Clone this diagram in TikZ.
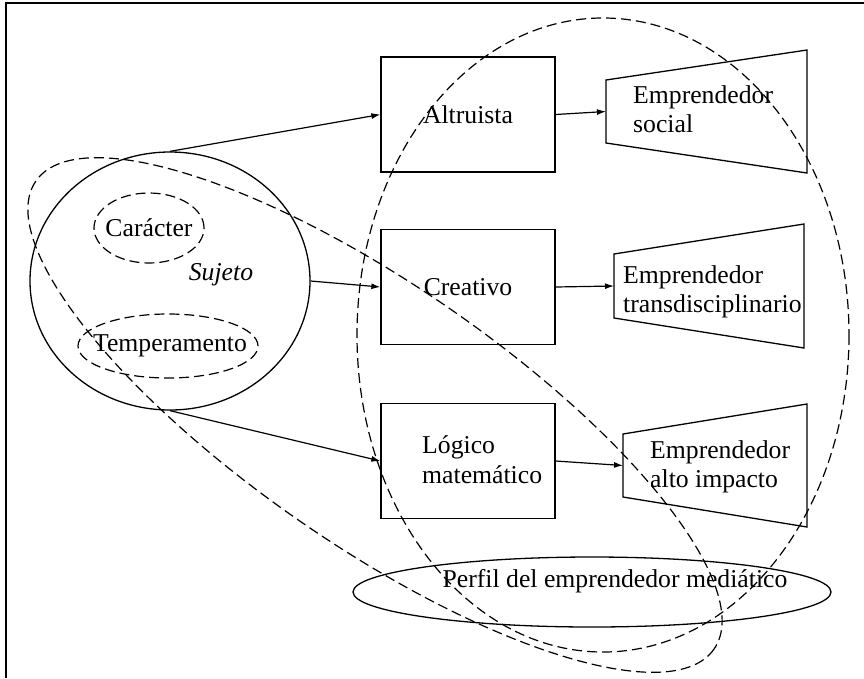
\documentclass[tikz,border=0pt]{standalone}
\usepackage{fontspec}
\setmainfont{Liberation Serif}
\usetikzlibrary{arrows.meta,shapes.geometric}
\begin{document}
\begin{tikzpicture}[x=1pt,y=-1pt,
  every node/.style={font=\fontsize{25.7}{29}\selectfont, inner sep=0pt},
  ln/.style={line width=1.3pt},
  box/.style={draw, line width=1.3pt, minimum width=174pt, minimum height=115pt},
  dsh/.style={line width=1.2pt, dash pattern=on 10pt off 5pt},
  arr/.style={-{Latex[length=9pt,width=6pt]}, line width=1.2pt},
  txt/.style={anchor=base west}]
\useasboundingbox (0,0) rectangle (864,678);
\draw[ln] (6,678) -- (6,3) -- (864,3);

% subject circle
\node[draw, ln, ellipse, minimum width=280pt, minimum height=258pt] (suj) at (170,281) {};
\node (sujt) at (221,275) {\itshape Sujeto};
\node[draw, dsh, ellipse, minimum width=110pt, minimum height=70pt] (car) at (149,228) {};
\node (cart) at (149,228) {Carácter};
\node[draw, dsh, ellipse, minimum width=180pt, minimum height=64pt] (tem) at (168,346) {};
\node (temt) at (170,346) {Temperamento};

% boxes
\node[box] (alt) at (468,114.5) {Altruista};
\node[box] (cre) at (468,287) {Creativo};
\node[box] (log) at (468,461) {};
\node[txt] (logA) at (422,453) {Lógico};
\node[txt] (logB) at (422,483) {matemático};

% trapezoids
\draw[ln] (606,80) -- (807,50) -- (807,173) -- (606,143) -- cycle;
\coordinate (t1) at (606,111.5);
\node[txt] (t1a) at (633,103) {Emprendedor};
\node[txt] (t1b) at (633,132) {social};
\draw[ln] (614,254) -- (804,224) -- (804,348) -- (614,318) -- cycle;
\coordinate (t2) at (614,286);
\node[txt] (t2a) at (623,283) {Emprendedor};
\node[txt] (t2b) at (623,312) {transdisciplinario};
\draw[ln] (623,434) -- (807,404) -- (807,527) -- (623,497) -- cycle;
\coordinate (t3) at (623,465.5);
\node[txt] (t3a) at (650,458) {Emprendedor};
\node[txt] (t3b) at (650,487) {alto impacto};

% bottom ellipse
\node[draw, ln, ellipse, minimum width=478pt, minimum height=70pt] (perf) at (592,592) {};
\node[anchor=base] (perft) at (615,587) {Perfil del emprendedor mediático};

% large dashed ellipses
\draw[dsh] (603,335) ellipse [x radius=246, y radius=317];
\draw[dsh, rotate around={-34.6:(375,415)}] (375,415) ellipse [x radius=412, y radius=130];

% arrows
\draw[arr] (suj.north) -- (alt.west);
\draw[arr] (suj.east) -- (cre.west);
\draw[arr] (suj.south) -- (log.west);
\draw[arr] (alt.east) -- (t1);
\draw[arr] (cre.east) -- (t2);
\draw[arr] (log.east) -- (t3);
\end{tikzpicture}
\end{document}
